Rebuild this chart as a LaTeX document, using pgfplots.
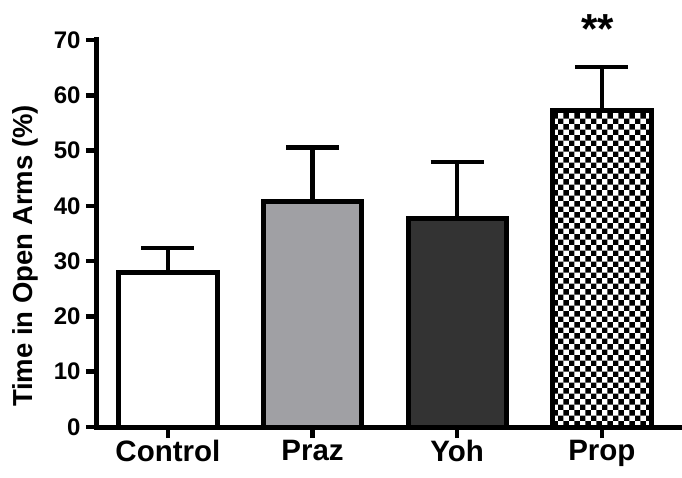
\documentclass[border=0pt]{standalone}
\usepackage{fontspec}
\setmainfont{Liberation Sans}
\usepackage{pgfplots}
\pgfplotsset{compat=1.18}
\usetikzlibrary{patterns.meta,calc}
\tikzdeclarepattern{
  name=bigchecker,
  type=uncolored,
  bottom left={(0pt,0pt)},
  top right={(11.4pt,11.4pt)},
  tile size={(11.4pt,11.4pt)},
  code={\fill (0pt,0pt) rectangle (5.7pt,5.7pt); \fill (5.7pt,5.7pt) rectangle (11.4pt,11.4pt);}
}
\definecolor{prazgray}{RGB}{160,160,164}
\definecolor{yohgray}{RGB}{51,51,51}
\begin{document}
\begin{tikzpicture}
\begin{axis}[
  name=ax,
  scale only axis, width=583pt, height=387pt,
  xmin=-0.49, xmax=3.54, ymin=0, ymax=70,
  ybar, bar width=0.68, bar shift=0pt,
  clip=false,
  axis x line*=bottom, axis y line*=left,
  axis line style={line width=5pt, line cap=rect},
  xtick={0,1,2,3}, xticklabels={Control,Praz,Yoh,Prop},
  ytick={0,10,...,70},
  tick align=outside, major tick length=11pt,
  tick style={line width=4.5pt, black},
  /pgf/number format/assume math mode=true,
  yticklabel style={font=\fontsize{24}{26}\selectfont\bfseries, xshift=-2pt},
  xticklabel style={font=\fontsize{29.5}{32}\selectfont\bfseries, yshift=1pt},
  ylabel={Time in Open Arms (\%)},
  ylabel style={font=\fontsize{27.5}{30}\selectfont\bfseries, at={(axis description cs:-0.122,0.442)}, anchor=center},
  error bars/y dir=plus, error bars/y explicit,
  error bars/error bar style={line width=4.5pt, black},
  error bars/error mark options={rotate=90, mark size=26.5pt, line width=4.5pt, black},
]
\addplot[fill=white, draw=black, line width=5pt] coordinates {(0,28.0) +- (0,4.4)};
\addplot[fill=prazgray, draw=black, line width=5pt] coordinates {(1,40.7) +- (0,9.9)};
\addplot[fill=yohgray, draw=black, line width=5pt] coordinates {(2,37.8) +- (0,10.1)};
\addplot[pattern=bigchecker, pattern color=black, draw=black, line width=5pt] coordinates {(3,57.3) +- (0,7.8)};
\node[font=\fontsize{42}{44}\selectfont\bfseries, anchor=base, xshift=-4pt, inner sep=0pt] at (axis cs:3,69.4) {**};
\end{axis}
\pgfresetboundingbox
\path[use as bounding box] ($(ax.south west)+(-97pt,-50pt)$) rectangle ($(ax.north east)+(2pt,40pt)$);
\end{tikzpicture}
\end{document}
